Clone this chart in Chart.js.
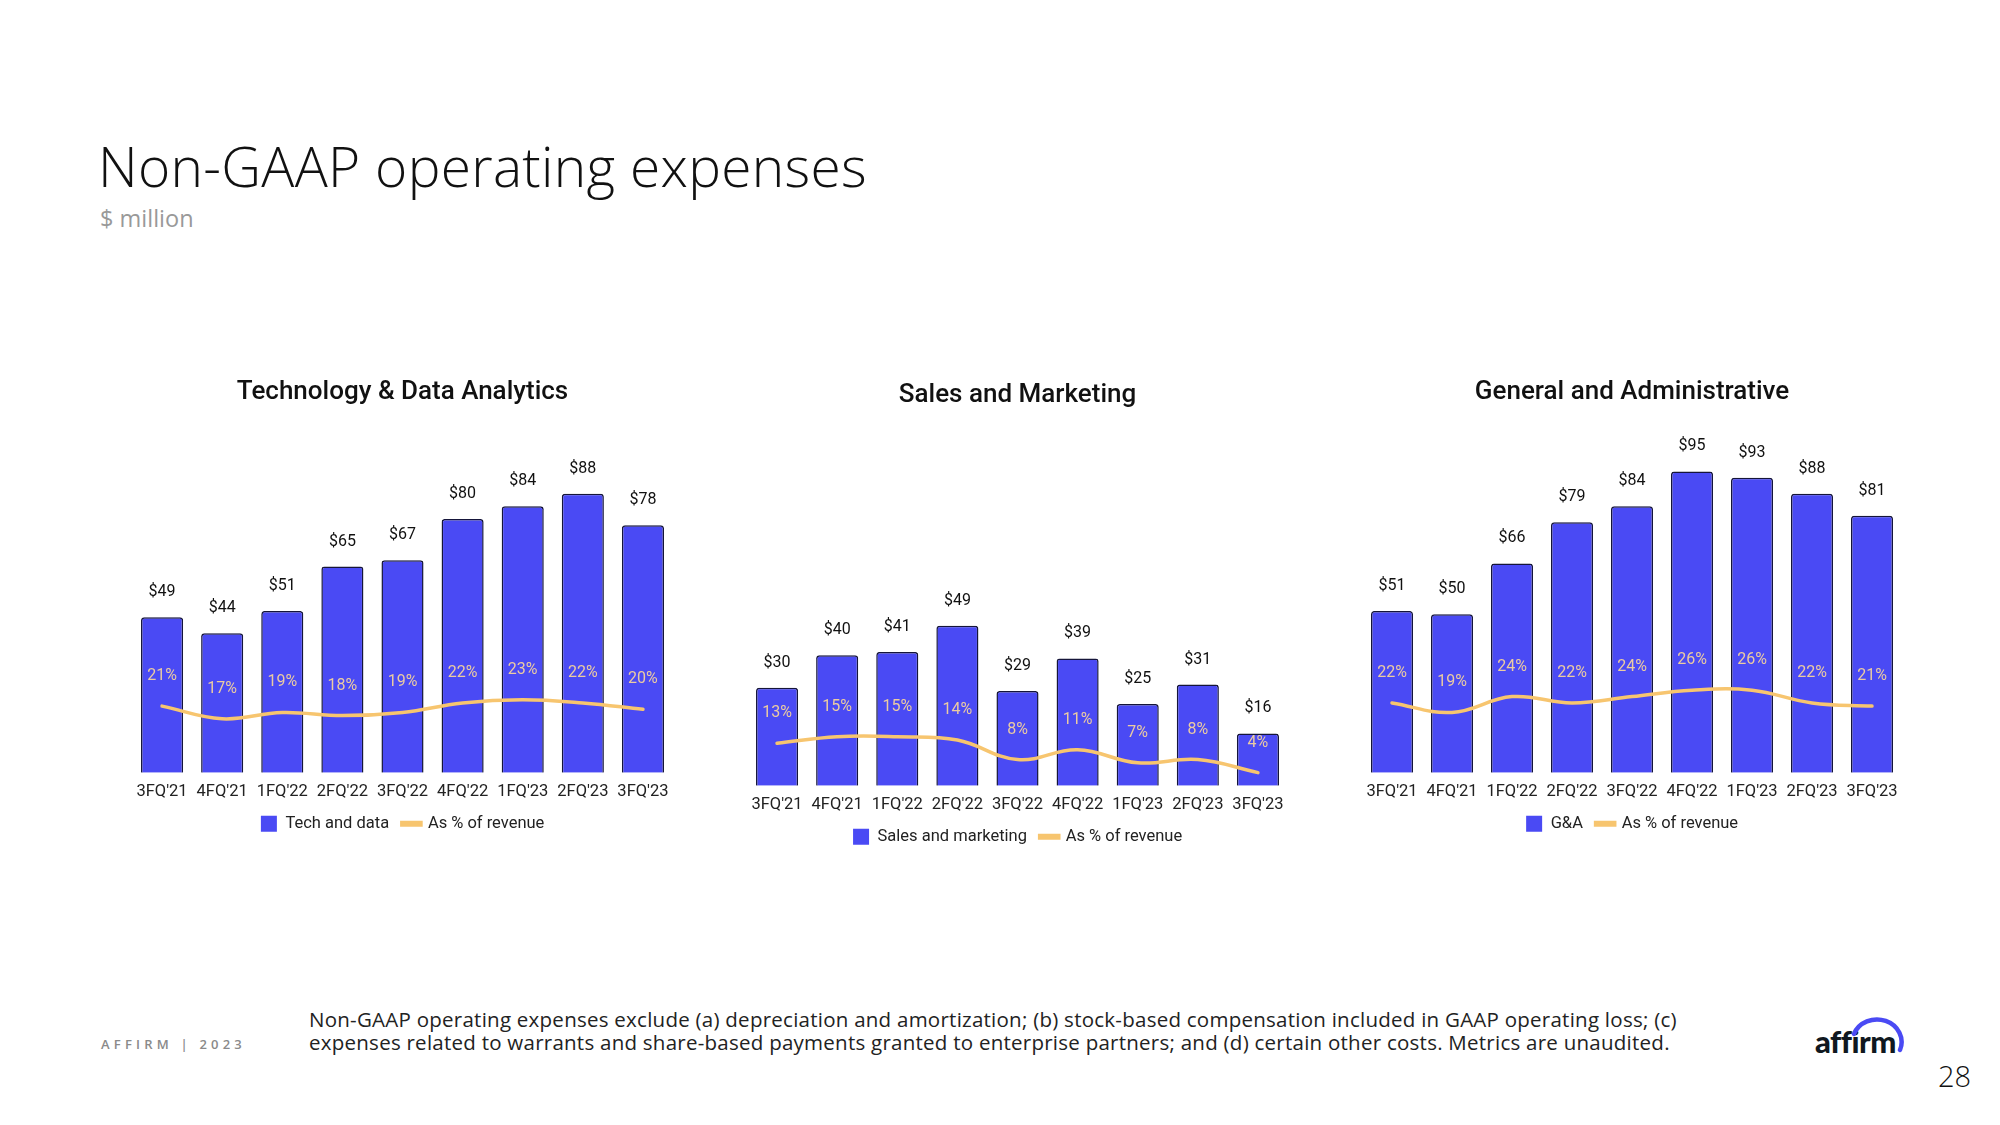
<!DOCTYPE html>
<html>
<head>
<meta charset="utf-8">
<script src="https://cdn.jsdelivr.net/npm/chart.js@4.4.1/dist/chart.umd.min.js"></script>
<style>
  body { margin: 0; width: 2000px; height: 1125px; background: #fff; position: relative; overflow: hidden; font-family: "Open Sans", sans-serif; }
  .abs { position: absolute; }
  #title { left: 98px; top: 128px; font-size: 55px; font-weight: 300; color: #111; letter-spacing: 0.3px; white-space: nowrap; }
  #sub { left: 100px; top: 202px; font-size: 23.5px; color: #999; }
  #brand { left: 101px; top: 1035px; font-size: 13px; font-weight: 600; color: #8a8a8a; letter-spacing: 4.2px; }
  #note { left: 309px; top: 1008px; font-size: 20.5px; line-height: 23px; color: #222; letter-spacing: 0.25px; white-space: nowrap; }
  #logo { left: 1815px; top: 1022px; font-family: "Lato", sans-serif; font-weight: 900; font-size: 31px; color: #101820; letter-spacing: -0.5px; }
  #arc { left: 1840px; top: 1012px; }
  #page { left: 1938px; top: 1056px; font-size: 29px; font-weight: 300; color: #111; }
  canvas { position: absolute; }
</style>
</head>
<body>
<div id="title" class="abs">Non-GAAP operating expenses</div>
<div id="sub" class="abs">$ million</div>

<canvas id="c1"></canvas>
<canvas id="c2"></canvas>
<canvas id="c3"></canvas>

<div id="brand" class="abs">AFFIRM | 2023</div>
<div id="note" class="abs">Non-GAAP operating expenses exclude (a) depreciation and amortization; (b) stock-based compensation included in GAAP operating loss; (c)<br>expenses related to warrants and share-based payments granted to enterprise partners; and (d) certain other costs. Metrics are unaudited.</div>
<div id="logo" class="abs">affirm</div>
<svg id="arc" class="abs" width="70" height="45"><path d="M 14 22 A 24 22 0 0 1 60 38" fill="none" stroke="#4a4af4" stroke-width="4.5" stroke-linecap="round"/></svg>
<div id="page" class="abs">28</div>

<script>
const quarters = ["3FQ'21", "4FQ'21", "1FQ'22", "2FQ'22", "3FQ'22", "4FQ'22", "1FQ'23", "2FQ'23", "3FQ'23"];

const techValues = [49, 44, 51, 65, 67, 80, 84, 88, 78];
const techPct = [21, 17, 19, 18, 19, 22, 23, 22, 20];

const salesValues = [30, 40, 41, 49, 29, 39, 25, 31, 16];
const salesPct = [13, 15, 15, 14, 8, 11, 7, 8, 4];

const gaValues = [51, 50, 66, 79, 84, 95, 93, 88, 81];
const gaPct = [22, 19, 24, 22, 24, 26, 26, 22, 21];

const BLUE = '#4a4af4';
const LINE = '#f7c56f';
const PCT_TEXT = '#ebcba2';
const FONT = 'Roboto, "Noto Sans", sans-serif';

// draws "$xx" above bars and "xx%" above the line
const labelPlugin = {
  id: 'valueLabels',
  afterDatasetsDraw(chart) {
    const ctx = chart.ctx;
    ctx.save();
    ctx.textAlign = 'center';
    ctx.textBaseline = 'middle';
    const barMeta = chart.getDatasetMeta(0);
    const barData = chart.data.datasets[0].data;
    ctx.font = '16px ' + FONT;
    ctx.fillStyle = '#111';
    barMeta.data.forEach((bar, i) => {
      ctx.fillText('$' + barData[i], bar.x, bar.y - 25);
    });
    const lineMeta = chart.getDatasetMeta(1);
    const lineData = chart.data.datasets[1].data;
    ctx.fillStyle = PCT_TEXT;
    lineMeta.data.forEach((pt, i) => {
      ctx.fillText(lineData[i] + '%', pt.x, pt.y - 30);
    });
    ctx.restore();
  }
};

function makeChart(id, box, title, barLabel, values, pct) {
  const canvas = document.getElementById(id);
  canvas.style.left = box.left + 'px';
  canvas.style.top = box.top + 'px';
  canvas.style.width = box.width + 'px';
  canvas.style.height = box.height + 'px';
  canvas.width = box.width;
  canvas.height = box.height;

  return new Chart(canvas, {
    type: 'bar',
    data: {
      labels: quarters,
      datasets: [
        {
          label: barLabel,
          data: values,
          backgroundColor: BLUE,
          borderColor: '#15153a',
          borderWidth: 1.5,
          borderRadius: 3,
          categoryPercentage: 1,
          barPercentage: 0.7,
          order: 2
        },
        {
          type: 'line',
          label: 'As % of revenue',
          data: pct,
          borderColor: LINE,
          backgroundColor: LINE,
          borderWidth: 3.5,
          tension: 0.4,
          pointRadius: 0,
          borderCapStyle: 'round',
          order: 1
        }
      ]
    },
    options: {
      responsive: false,
      animation: false,
      layout: { padding: { left: 20, right: 20, top: 0, bottom: 0 } },
      plugins: {
        title: {
          display: true,
          text: title,
          color: '#111',
          font: { family: FONT, size: 26, weight: '500' },
          padding: { top: 17, bottom: 22 }
        },
        legend: {
          position: 'bottom',
          labels: {
            color: '#222',
            font: { family: FONT, size: 16.5 },
            usePointStyle: true,
            boxHeight: 16,
            padding: 14,
            sort: (a, b) => a.datasetIndex - b.datasetIndex,
            generateLabels(chart) {
              const items = Chart.defaults.plugins.legend.labels.generateLabels(chart);
              items.forEach(it => {
                if (it.datasetIndex === 0) {
                  it.pointStyle = 'rect';
                  it.lineWidth = 0;
                  it.strokeStyle = BLUE;
                } else {
                  it.pointStyle = 'line';
                  it.lineWidth = 6;
                }
              });
              return items;
            }
          }
        },
        tooltip: { enabled: false }
      },
      scales: {
        x: {
          grid: { display: false, drawTicks: false },
          border: { display: false },
          ticks: { color: '#222', font: { family: FONT, size: 16.5 }, padding: 9, maxRotation: 0 },
          afterFit(scale) { scale.height -= 9; }
        },
        y: {
          display: false,
          min: 0,
          max: 108
        }
      }
    },
    plugins: [labelPlugin]
  });
}

makeChart('c1', { left: 112, top: 360, width: 581, height: 482 }, 'Technology & Data Analytics', 'Tech and data', techValues, techPct);
makeChart('c2', { left: 727, top: 363, width: 581, height: 492 }, 'Sales and Marketing', 'Sales and marketing', salesValues, salesPct);
makeChart('c3', { left: 1342, top: 360, width: 580, height: 482 }, 'General and Administrative', 'G&A', gaValues, gaPct);
</script>
</body>
</html>
